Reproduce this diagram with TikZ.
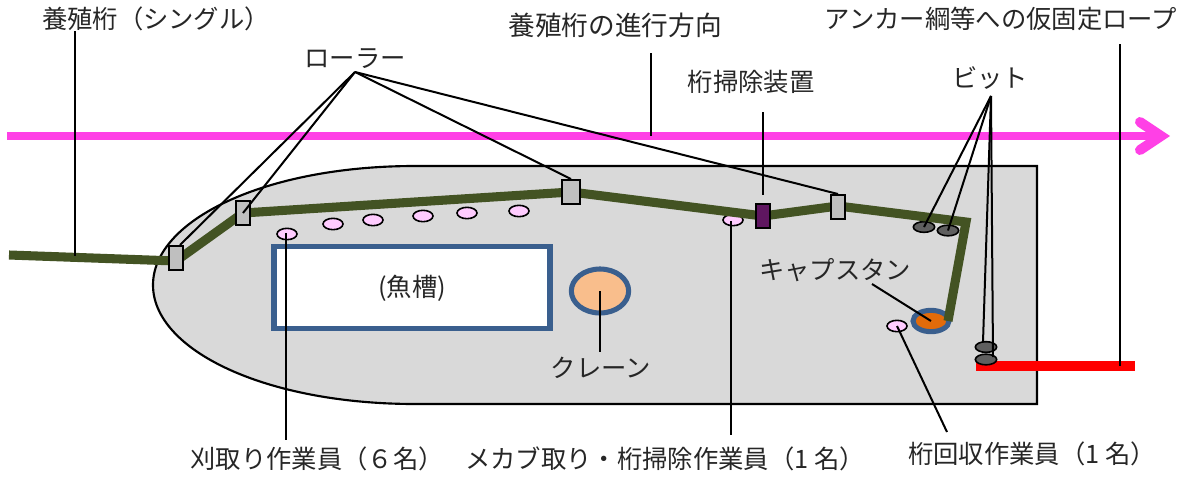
\documentclass[tikz,border=0pt]{standalone}
\usepackage{fontspec}
\setmainfont{Noto Sans CJK JP}
\usepackage{xcolor}
\usetikzlibrary{positioning}
\usetikzlibrary{shapes.geometric}
\usetikzlibrary{calc}

\definecolor{hullgray}{HTML}{D9D9D9}
\definecolor{ropegreen}{HTML}{435323}
\definecolor{tankblue}{HTML}{3A5F8E}
\definecolor{travelpink}{HTML}{FF40E6}
\definecolor{workerpink}{HTML}{FFCCFF}
\definecolor{sweeppurple}{HTML}{5F1660}
\definecolor{bittgray}{HTML}{5F5F5F}
\definecolor{cranepeach}{HTML}{F9BE8C}
\definecolor{capstanorange}{HTML}{E26B0A}

\tikzset{
  lbl/.style={inner sep=0pt,font=\fontsize{19pt}{22pt}\selectfont,text=black!85},
  leader/.style={draw=black,line width=1.5pt},
  roller/.style={draw=black,line width=1.5pt,fill=black!25,minimum width=11pt,minimum height=18pt,inner sep=0pt},
  worker/.style={ellipse,draw=black,line width=1.2pt,fill=workerpink,minimum width=15pt,minimum height=8.5pt,inner sep=0pt},
  bitt/.style={ellipse,draw=black,line width=1.2pt,fill=bittgray,minimum width=16pt,minimum height=8pt,inner sep=0pt},
}

\begin{document}
\begin{tikzpicture}[x=0.75pt,y=0.75pt,yscale=-1,xscale=1]
  \useasboundingbox (0,0) rectangle (1190,479);
  %Hull
  \draw [fill=hullgray,line width=1.6pt] (1037,166) -- (1037,404) -- (415,404) .. controls (265,404) and (153,350) .. (153,285) .. controls (153,220) and (265,166) .. (415,166) -- cycle;
  %Direction of travel
  \coordinate (travelstart) at (7,136);
  \coordinate (traveltip) at (1161,136);
  \draw [travelpink,line width=6pt] (travelstart) -- (traveltip);
  \draw [travelpink,line width=7.5pt,line cap=round,line join=miter] (1140,122) -- (traveltip) -- (1140,150);
  %Fish tank
  \node (tank) [draw=tankblue,line width=3.8pt,fill=white,minimum width=207pt,minimum height=61pt,inner sep=0pt] at (412,287.5) {};
  %Crane
  \node (crane) [ellipse,draw=tankblue,line width=3.8pt,fill=cranepeach,minimum width=43pt,minimum height=33pt,inner sep=0pt] at (600,291) {};
  %Capstan
  \node (capstan) [ellipse,draw=tankblue,line width=3.8pt,fill=capstanorange,minimum width=27pt,minimum height=16pt,inner sep=0pt] at (931,321) {};
  %Workers
  \node (workerA) [worker] at (287,234) {};
  \node (workerB) [worker] at (333,224) {};
  \node (workerC) [worker] at (373,220) {};
  \node (workerD) [worker] at (423,216) {};
  \node (workerE) [worker] at (467,213) {};
  \node (workerF) [worker] at (519,211) {};
  \node (workerG) [worker] at (733,220) {};
  \node (workerH) [worker] at (897,326) {};
  %Temporary rope
  \coordinate (redstart) at (976,366);
  \coordinate (redend) at (1135,366);
  \draw [red,line width=8pt] (redstart) -- (redend);
  %Bitts
  \node (bittA) [bitt] at (924,227) {};
  \node (bittB) [bitt] at (948,230.5) {};
  \node (bittC) [bitt] at (986,347) {};
  \node (bittD) [bitt] at (986,359.5) {};
  %Rope
  \coordinate (ropestart) at (9,255);
  \coordinate (ropecorner) at (966,222);
  \draw [ropegreen,line width=6.8pt,line join=miter] (ropestart) -- (176,261) -- (243,213) -- (571,192) -- (763,216) -- (838,206) -- (ropecorner) -- (948,321);
  %Rollers and cleaner
  \node (rollerA) [roller] at (176,258) {};
  \node (rollerB) [roller] at (243,213) {};
  \node (rollerC) [roller,minimum width=14pt] at (571,192) {};
  \node (rollerD) [roller] at (838,207) {};
  \node (cleaner) [roller,fill=sweeppurple] at (763,216) {};

  % Text Node
  \node (lblrope) [lbl] at (156,19) {養殖桁（シングル）};
  % Text Node
  \node (lbldir) [lbl,font=\fontsize{20pt}{22pt}\selectfont] at (615,25) {養殖桁の進行方向};
  % Text Node
  \node (lblanchor) [lbl] at (1001,19) {アンカー綱等への仮固定ロープ};
  % Text Node
  \node (lblroller) [lbl] at (355,59) {ローラー};
  % Text Node
  \node (lblcleaner) [lbl] at (751,82) {桁掃除装置};
  % Text Node
  \node (lblbitt) [lbl] at (990,78) {ビット};
  % Text Node
  \node (lblcapstan) [lbl] at (835,270) {キャプスタン};
  % Text Node
  \node (lbltank) [lbl] at (412,288) {(魚槽)};
  % Text Node
  \node (lblcrane) [lbl] at (601,368) {クレーン};
  % Text Node
  \node (lblcutter) [lbl] at (317,459) {刈取り作業員（６名）};
  % Text Node
  \node (lblmekabu) [lbl] at (665,459) {メカブ取り・桁掃除作業員（1 名）};
  % Text Node
  \node (lblrecover) [lbl] at (1032,454) {桁回収作業員（1 名）};

  %Leaders
  \coordinate (rollerhub) at (355,72);
  \coordinate (bitthub) at (991,96);
  \draw [leader] (75,31) -- (75,256);
  \draw [leader] (651,53) -- (651,136);
  \draw [leader] (1120,44) -- (1120,366);
  \draw [leader] (rollerhub) -- (180,245);
  \draw [leader] (rollerhub) -- (rollerB.center);
  \draw [leader] (rollerhub) -- (rollerC.north);
  \draw [leader] (rollerhub) -- (rollerD.north);
  \draw [leader] (763,112) -- (763,195);
  \draw [leader] (bitthub) -- (bittA.center);
  \draw [leader] (bitthub) -- (bittB.center);
  \draw [leader] (bitthub) -- (983,342);
  \draw [leader] (bitthub) -- (993,357);
  \draw [leader] (872,284) -- (capstan.center);
  \draw [leader] (crane.center) -- (600,352);
  \draw [leader] (285.5,233) -- (285.5,440);
  \draw [leader] (731,221) -- (731,435);
  \draw [leader] (workerH.center) -- (947,432);
\end{tikzpicture}
\end{document}
